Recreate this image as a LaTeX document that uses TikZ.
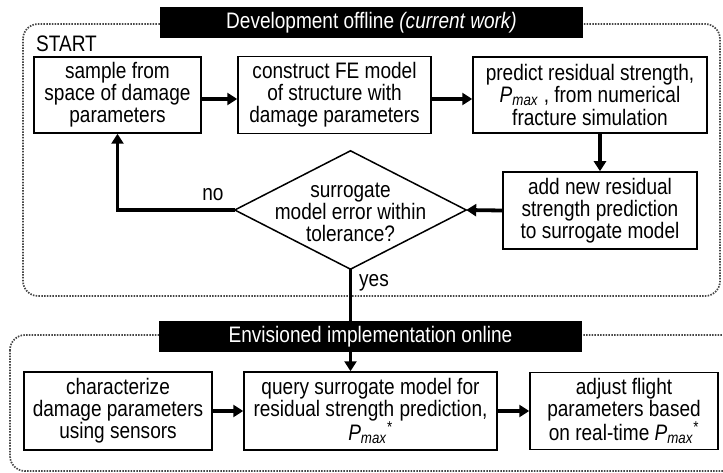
\documentclass[tikz,border=0pt]{standalone}
\usepackage{fontspec}
\setmainfont{Liberation Sans}[FakeStretch=0.85]
\usetikzlibrary{arrows.meta}
\newcommand\pmx{\textit{P}\textsubscript{\textit{max}}}
\newcommand\txtfont{\fontsize{22.4}{21.9}\selectfont}
\tikzset{
  box/.style={draw, line width=1.5pt, align=center, inner sep=0pt, font=\txtfont},
  flow/.style={line width=3.8pt, -{Triangle[length=10pt,width=12pt]}},
  frame/.style={draw=gray!55!black, line width=1.7pt, dash pattern=on 1.5pt off 1.3pt, rounded corners=15pt},
  titlebox/.style={fill=black, text=white, inner sep=0pt, minimum width=423pt, minimum height=31pt, font=\txtfont},
  lbl/.style={inner sep=0pt, font=\txtfont},
}
\begin{document}
\begin{tikzpicture}[x=1pt,y=-1pt]
\useasboundingbox (0,0) rectangle (723,473);
% frames
\draw[frame] (23,24) rectangle (720,296);
\draw[frame] (10,335) rectangle (740,471);

% offline nodes
\node[box, minimum width=167pt, minimum height=76pt] (b1) at (117.5,95) {sample from\\space of damage\\parameters};
\node[box, minimum width=193pt, minimum height=77pt] (b2) at (334.5,95) {construct FE model\\of structure with\\damage parameters};
\node[box, minimum width=234pt, minimum height=76pt] (b3) at (590,95) {predict residual strength,\\\pmx\ , from numerical\\[1.5pt]fracture simulation};
\node[box, minimum width=194pt, minimum height=77pt] (b4) at (600,210.5) {add new residual\\strength prediction\\to surrogate model};
\node[inner sep=0pt, minimum width=231pt, minimum height=118pt] (dia) at (350.5,210) {};
\draw[line width=1.5pt, line join=miter] (dia.north) -- (dia.east) -- (dia.south) -- (dia.west) -- cycle;
\node[lbl, align=center] (dtext) at (350.5,212) {surrogate\\model error within\\tolerance?};
\node[lbl, anchor=base west] (start) at (36,52) {START};
\node[lbl, anchor=base] (no) at (213,201) {no};
\node[lbl, anchor=base west] (yes) at (359,287) {yes};

% online nodes
\node[box, minimum width=188pt, minimum height=78pt] (c1) at (118,411) {characterize\\damage parameters\\using sensors};
\node[box, minimum width=253pt, minimum height=78pt] (c2) at (370.5,411) {query surrogate model for\\residual strength prediction,\\\pmx\textsuperscript{*}};
\node[box, minimum width=188pt, minimum height=77pt] (c3) at (624,411) {adjust flight\\parameters based\\on real-time \pmx\textsuperscript{*}};

% connectors
\draw[flow] ([yshift=-4pt]b1.east) -- ([yshift=-4pt]b1.east -| b2.west);
\draw[flow] ([yshift=-4pt]b2.east) -- ([yshift=-4pt]b2.east -| b3.west);
\draw[flow] (b3.south -| b4.north) -- (b4.north);
\draw[flow] (b4.west) -- (dia.east);
\draw[flow] (dia.west) -- (dia.west -| b1.south) -- (b1.south);
\draw[flow] (dia.south) -- (dia.south |- c2.north);
\draw[flow] (c1.east) -- (c1.east -| c2.west);
\draw[flow] (c2.east) -- (c2.east -| c3.west);

% title boxes
\node[titlebox] (t1) at (371.5,22.5) {Development offline \textit{(current work)}};
\node[titlebox] (t2) at (370.5,336.5) {Envisioned implementation online};
\end{tikzpicture}
\end{document}
